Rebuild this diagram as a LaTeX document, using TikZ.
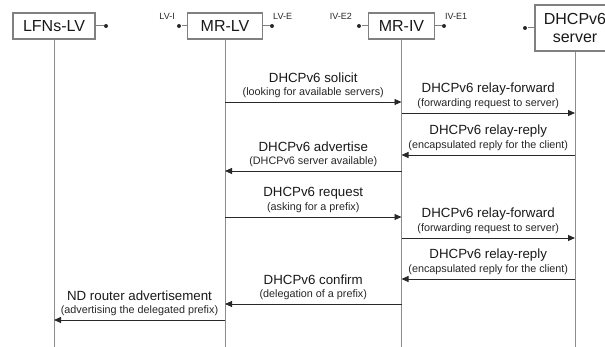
\documentclass[tikz,border=0pt]{standalone}
\usepackage{fontspec}
\setmainfont{Liberation Sans}
\definecolor{boxgray}{RGB}{128,128,128}
\definecolor{lifegray}{RGB}{140,140,140}
\definecolor{msgdark}{RGB}{40,40,40}
\usetikzlibrary{arrows.meta, positioning}

\begin{document}
\begin{tikzpicture}[x=1pt, y=-1pt,
	entity/.style={draw=boxgray, line width=1.2pt, font=\fontsize{16}{18}\selectfont, inner sep=0pt, minimum height=26pt, text=black!90},
	life/.style={draw=lifegray, line width=0.9pt},
	port/.style={circle, fill=msgdark, inner sep=0pt, minimum size=4pt},
	portlab/.style={font=\fontsize{9}{10}\selectfont, inner sep=1pt, text=black!85},
	msg/.style={draw=msgdark, line width=0.9pt, -{Triangle[length=7pt,width=6pt]}},
	msgtitle/.style={font=\fontsize{13.3}{15}\selectfont, inner sep=0pt, text=black!90},
	msgnote/.style={font=\fontsize{10.8}{12}\selectfont, inner sep=0pt, text=black!85}]
	\clip (0,0) rectangle (605,347);
	\node[entity, minimum width=82pt] (lfns) at (54,26) {LFNs-LV};
	\node[entity, minimum width=75pt] (mrlv) at (225,26) {MR-LV};
	\node[entity, minimum width=66pt] (mriv) at (401.5,26) {MR-IV};
	\node[entity, minimum width=80pt, minimum height=46pt, align=center] (srv) at (575,28) {DHCPv6\\server};
	\begin{scope}[boxgray, line width=1pt]
		\node[port] (lfnsp) at (106,26) {};
		\node[port] (lvi) at (179,26) {};
		\node[port] (lve) at (272,26) {};
		\node[port] (ive2) at (359,26) {};
		\node[port] (ive1) at (444,26) {};
		\node[port] (srvp) at (525,28) {};
		\draw (lfns.east) -- (lfnsp);
		\draw (mrlv.west) -- (lvi);
		\draw (mrlv.east) -- (lve);
		\draw (mriv.west) -- (ive2);
		\draw (mriv.east) -- (ive1);
		\draw (srv.west) -- (srvp);
	\end{scope}
	\node[portlab, anchor=south east] (lvilab) at ([xshift=-3pt,yshift=5pt]lvi) {LV-I};
	\node[portlab, anchor=south west] (lvelab) at ([xshift=0pt,yshift=5pt]lve) {LV-E};
	\node[portlab, anchor=south east] (ive2lab) at ([xshift=-6pt,yshift=5pt]ive2) {IV-E2};
	\node[portlab, anchor=south west] (ive1lab) at ([xshift=0pt,yshift=5pt]ive1) {IV-E1};
	\coordinate (bottom) at (0,347);
	\foreach \n in {lfns,mrlv,mriv,srv}{\draw[life] (\n.south) -- (\n.south |- bottom);}
	\foreach \ya/\src/\dst/\mtitle/\mnote [count=\i] in {
		102/mrlv/mriv/{DHCPv6 solicit}/{(looking for available servers)},
		113/mriv/srv/{DHCPv6 relay-forward}/{(forwarding request to server)},
		155/srv/mriv/{DHCPv6 relay-reply}/{(encapsulated reply for the client)},
		171/mriv/mrlv/{DHCPv6 advertise}/{(DHCPv6 server available)},
		217/mrlv/mriv/{DHCPv6 request}/{(asking for a prefix)},
		238/mriv/srv/{DHCPv6 relay-forward}/{(forwarding request to server)},
		279/srv/mriv/{DHCPv6 relay-reply}/{(encapsulated reply for the client)},
		304/mriv/mrlv/{DHCPv6 confirm}/{(delegation of a prefix)},
		320/mrlv/lfns/{ND router advertisement}/{(advertising the delegated prefix)}}{
		\draw[msg] (\src |- 0,\ya) -- coordinate (m\i) (\dst |- 0,\ya);
		\node[msgtitle] (t\i) at ([yshift=24pt]m\i) {\mtitle};
		\node[msgnote] (s\i) at ([yshift=9.5pt]m\i) {\mnote};
	}
\end{tikzpicture}
\end{document}
